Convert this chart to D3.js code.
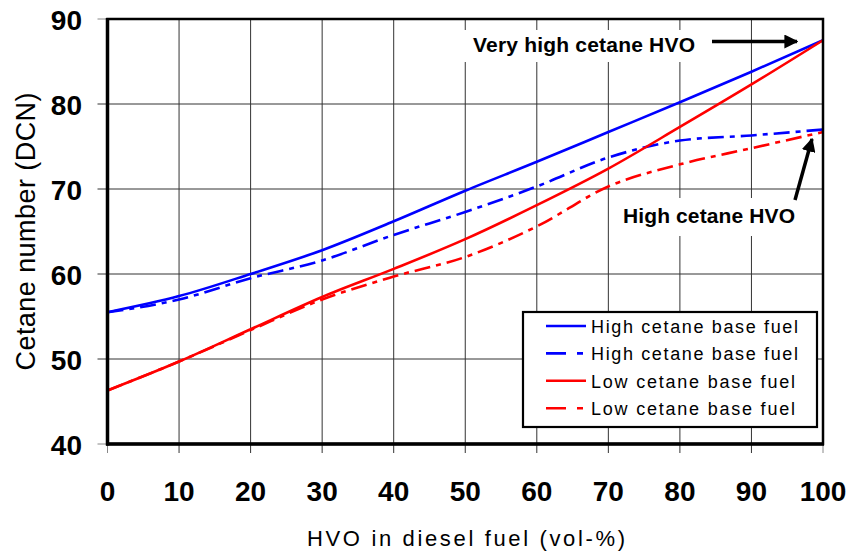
<!DOCTYPE html>
<html lang="en">
<head>
	<meta charset="UTF-8"/>
	<title>Cetane number vs HVO</title>
	<script src="https://d3js.org/d3.v7.min.js"></script>
	<style>
		body { margin: 0; background: #fff; }
		svg text { font-family: Arial, "Liberation Sans", sans-serif; fill: #000; }
		.grid line { stroke: #333; stroke-width: 1; }
		.tick-lab { font-size: 28px; font-weight: bold; }
		.series { fill: none; stroke-width: 2.6; }
	</style>
</head>
<body>
	<div id="chart"></div>
	<script>
	var w = 850;
	var h = 555;

	// HVO share (vol-%) and cetane numbers
	var hvo = [0, 10, 20, 30, 40, 50, 60, 70, 80, 90, 100];
	var highSolid = [55.5, 57.4, 60.0, 62.8, 66.2, 69.8, 73.2, 76.7, 80.2, 83.8, 87.5];
	var highDash  = [55.5, 57.0, 59.5, 61.6, 64.6, 67.3, 70.3, 73.7, 75.7, 76.3, 77.0];
	var lowSolid  = [46.3, 49.7, 53.5, 57.3, 60.6, 64.1, 68.1, 72.4, 77.3, 82.3, 87.5];
	var lowDash   = [46.3, 49.7, 53.4, 57.0, 59.7, 62.0, 65.6, 70.3, 72.9, 74.8, 76.7];

	var xTicks = [0, 10, 20, 30, 40, 50, 60, 70, 80, 90, 100];
	var yTicks = [40, 50, 60, 70, 80, 90];
	var legendLabels = ["High cetane base fuel", "High cetane base fuel", "Low cetane base fuel", "Low cetane base fuel"];

	var series = [
		{ values: highSolid, color: "#0000ff", dash: null },
		{ values: highDash,  color: "#0000ff", dash: "16,6,5,6" },
		{ values: lowSolid,  color: "#ff0000", dash: null },
		{ values: lowDash,   color: "#ff0000", dash: "16,6,5,6" }
	];

	var svg = d3.select("#chart")
				.append("svg")
				.attr("width", w)
				.attr("height", h);

	var xScale = d3.scaleLinear()
					.domain([0, 100])
					.range([107.5, 823]);
	var yScale = d3.scaleLinear()
					.domain([40, 90])
					.range([444, 19]);

	// grid
	var grid = svg.append("g").attr("class", "grid");
	grid.selectAll(".vx")
		.data(xTicks.slice(1, -1))
		.enter()
		.append("line")
		.attr("x1", function(d){ return xScale(d); })
		.attr("x2", function(d){ return xScale(d); })
		.attr("y1", yScale(90))
		.attr("y2", yScale(40) + 9);
	grid.selectAll(".hy")
		.data(yTicks.slice(1, -1))
		.enter()
		.append("line")
		.attr("x1", xScale(0) - 10)
		.attr("x2", xScale(100))
		.attr("y1", function(d){ return yScale(d); })
		.attr("y2", function(d){ return yScale(d); });

	// small outside ticks at ends
	svg.append("g").attr("class", "grid")
		.selectAll("line")
		.data([40, 90])
		.enter()
		.append("line")
		.attr("x1", xScale(0) - 10)
		.attr("x2", xScale(0))
		.attr("y1", function(d){ return yScale(d); })
		.attr("y2", function(d){ return yScale(d); })
		.style("stroke", "#888");
	svg.append("g").attr("class", "grid")
		.selectAll("line")
		.data([0, 100])
		.enter()
		.append("line")
		.attr("x1", function(d){ return xScale(d); })
		.attr("x2", function(d){ return xScale(d); })
		.attr("y1", yScale(40))
		.attr("y2", yScale(40) + 9)
		.style("stroke", "#888");

	// white boxes behind annotations
	svg.append("rect")
		.attr("x", 462).attr("y", 30)
		.attr("width", 243).attr("height", 32)
		.style("fill", "#fff");
	svg.append("rect")
		.attr("x", 616).attr("y", 198)
		.attr("width", 186).attr("height", 38)
		.style("fill", "#fff");

	// lines
	var line = d3.line()
				.x(function(d, i){ return xScale(hvo[i]); })
				.y(function(d){ return yScale(d); })
				.curve(d3.curveMonotoneX);

	svg.selectAll(".series")
		.data(series)
		.enter()
		.append("path")
		.attr("class", "series")
		.attr("d", function(d){ return line(d.values); })
		.style("stroke", function(d){ return d.color; })
		.style("stroke-dasharray", function(d){ return d.dash; });

	// frame
	svg.append("rect")
		.attr("x", xScale(0)).attr("y", yScale(90))
		.attr("width", xScale(100) - xScale(0))
		.attr("height", yScale(40) - yScale(90))
		.style("fill", "none")
		.style("stroke", "#000")
		.style("stroke-width", 2.5);
	svg.append("line")
		.attr("x1", xScale(0)).attr("x2", xScale(0))
		.attr("y1", yScale(90) - 1).attr("y2", yScale(40) + 1.5)
		.style("stroke", "#000").style("stroke-width", 3.5);
	svg.append("line")
		.attr("x1", xScale(0) - 1.5).attr("x2", xScale(100) + 1)
		.attr("y1", yScale(40)).attr("y2", yScale(40))
		.style("stroke", "#000").style("stroke-width", 3.5);

	// tick labels
	svg.selectAll(".ylab")
		.data(yTicks)
		.enter()
		.append("text")
		.attr("class", "tick-lab")
		.attr("x", 82)
		.attr("y", function(d){ return yScale(d) + 11; })
		.attr("text-anchor", "end")
		.text(function(d){ return d; });
	svg.selectAll(".xlab")
		.data(xTicks)
		.enter()
		.append("text")
		.attr("class", "tick-lab")
		.attr("x", function(d){ return xScale(d); })
		.attr("y", 501)
		.attr("text-anchor", "middle")
		.text(function(d){ return d; });

	// axis titles
	svg.append("text")
		.attr("transform", "translate(35," + ((yScale(40) + yScale(90)) / 2) + ") rotate(-90)")
		.attr("text-anchor", "middle")
		.attr("textLength", 278)
		.attr("lengthAdjust", "spacing")
		.style("font-size", "27px")
		.text("Cetane number (DCN)");
	svg.append("text")
		.attr("x", 466)
		.attr("y", 546)
		.attr("text-anchor", "middle")
		.attr("textLength", 318)
		.attr("lengthAdjust", "spacing")
		.style("font-size", "22px")
		.text("HVO in diesel fuel (vol-%)");

	// annotations
	svg.append("defs").append("marker")
		.attr("id", "head")
		.attr("viewBox", "0 0 10 10")
		.attr("refX", 9).attr("refY", 5)
		.attr("markerWidth", 4).attr("markerHeight", 4)
		.attr("orient", "auto")
		.append("path")
		.attr("d", "M0,0L10,5L0,10z")
		.style("fill", "#000");

	svg.append("text")
		.attr("x", 473).attr("y", 52)
		.attr("textLength", 222)
		.attr("lengthAdjust", "spacing")
		.style("font-size", "21px").style("font-weight", "bold")
		.text("Very high cetane HVO");
	svg.append("line")
		.attr("x1", 712).attr("y1", 41.5)
		.attr("x2", 797).attr("y2", 41.5)
		.attr("marker-end", "url(#head)")
		.style("stroke", "#000").style("stroke-width", 3.5);

	svg.append("text")
		.attr("x", 623).attr("y", 223)
		.attr("textLength", 172)
		.attr("lengthAdjust", "spacing")
		.style("font-size", "21px").style("font-weight", "bold")
		.text("High cetane HVO");
	svg.append("line")
		.attr("x1", 795).attr("y1", 200)
		.attr("x2", 812).attr("y2", 139)
		.attr("marker-end", "url(#head)")
		.style("stroke", "#000").style("stroke-width", 3.5);

	// legend
	var legend = svg.append("g");
	legend.append("rect")
		.attr("x", 523).attr("y", 312)
		.attr("width", 294).attr("height", 115)
		.style("fill", "#fff")
		.style("stroke", "#000")
		.style("stroke-width", 2.2);
	var rows = legend.selectAll(".row")
		.data(series)
		.enter()
		.append("g")
		.attr("transform", function(d, i){ return "translate(0," + (326 + i * 27.4) + ")"; });
	rows.append("line")
		.attr("x1", 546).attr("x2", 586)
		.attr("y1", 0).attr("y2", 0)
		.style("stroke", function(d){ return d.color; })
		.style("stroke-width", 2.6)
		.style("stroke-dasharray", function(d){ return d.dash ? "20,11,6" : null; });
	rows.append("text")
		.attr("x", 591)
		.attr("y", 7)
		.attr("textLength", function(d, i){ return i < 2 ? 207 : 204; })
		.attr("lengthAdjust", "spacing")
		.style("font-size", "18px")
		.text(function(d, i){ return legendLabels[i]; });
	</script>
</body>
</html>
